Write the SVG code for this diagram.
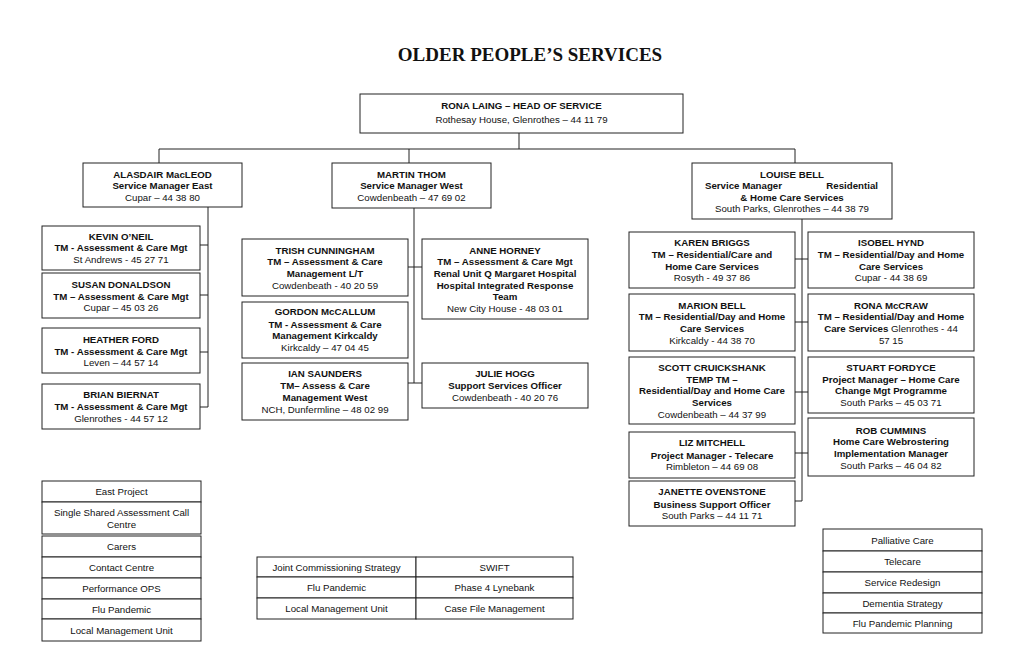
<svg xmlns="http://www.w3.org/2000/svg" width="1024" height="658" viewBox="0 0 1024 658">
<style>
text{font-family:"Liberation Sans",Arial,sans-serif;font-size:9.7px;fill:#111;text-anchor:middle}
.b{font-weight:bold}
.t{font-family:"Liberation Serif","Times New Roman",serif;font-size:19px;font-weight:bold}
rect{fill:#fff;stroke:#222;stroke-width:1}
.c line{stroke:#222;stroke-width:1}
</style>
<rect x="0" y="0" width="1024" height="658" style="stroke:none"/>
<text class="t" x="530" y="61">OLDER PEOPLE’S SERVICES</text>

<g class="c" id="connectors">
<line x1="519" y1="133" x2="519" y2="149"/>
<line x1="159" y1="149" x2="795" y2="149"/>
<line x1="159" y1="149" x2="159" y2="163"/>
<line x1="409" y1="149" x2="409" y2="163"/>
<line x1="795" y1="149" x2="795" y2="163"/>
<line x1="208" y1="207" x2="208" y2="407"/>
<line x1="200" y1="245" x2="208" y2="245"/>
<line x1="200" y1="295" x2="208" y2="295"/>
<line x1="200" y1="352" x2="208" y2="352"/>
<line x1="200" y1="407" x2="208" y2="407"/>
<line x1="414" y1="208" x2="414" y2="383"/>
<line x1="408" y1="267" x2="422" y2="267"/>
<line x1="408" y1="383" x2="422" y2="383"/>
<line x1="802" y1="219" x2="802" y2="501"/>
<line x1="795" y1="259" x2="808" y2="259"/>
<line x1="795" y1="322" x2="808" y2="322"/>
<line x1="795" y1="392" x2="808" y2="392"/>
<line x1="795" y1="453" x2="808" y2="453"/>
<line x1="795" y1="501" x2="802" y2="501"/>
</g>

<g id="head">
<rect x="360" y="94" width="323" height="39"/>
<text class="b" x="521.5" y="108.5">RONA LAING – HEAD OF SERVICE</text>
<text x="521.5" y="122.5">Rothesay House, Glenrothes – 44 11 79</text>
</g>

<g id="alasdair">
<rect x="83" y="163" width="159" height="44"/>
<text class="b" x="162.5" y="177.5">ALASDAIR MacLEOD</text>
<text class="b" x="162.5" y="189">Service Manager East</text>
<text x="162.5" y="200.5">Cupar – 44 38 80</text>
</g>
<g id="kevin">
<rect x="42" y="226" width="158" height="44"/>
<text class="b" x="121" y="239.5">KEVIN O’NEIL</text>
<text class="b" x="121" y="251">TM - Assessment &amp; Care Mgt</text>
<text x="121" y="262.5">St Andrews - 45 27 71</text>
</g>
<g id="susan">
<rect x="42" y="273" width="158" height="45"/>
<text class="b" x="121" y="287.5">SUSAN DONALDSON</text>
<text class="b" x="121" y="299.5">TM – Assessment &amp; Care Mgt</text>
<text x="121" y="311">Cupar – 45 03 26</text>
</g>
<g id="heather">
<rect x="42" y="328" width="158" height="45"/>
<text class="b" x="121" y="342.5">HEATHER FORD</text>
<text class="b" x="121" y="354.5">TM -  Assessment &amp; Care Mgt</text>
<text x="121" y="366">Leven – 44 57 14</text>
</g>
<g id="brian">
<rect x="42" y="384" width="158" height="45"/>
<text class="b" x="121" y="398">BRIAN BIERNAT</text>
<text class="b" x="121" y="410">TM - Assessment &amp; Care Mgt</text>
<text x="121" y="422">Glenrothes - 44 57 12</text>
</g>

<g id="martin">
<rect x="332" y="163" width="159" height="45"/>
<text class="b" x="411.5" y="177.5">MARTIN THOM</text>
<text class="b" x="411.5" y="189">Service Manager West</text>
<text x="411.5" y="200.5">Cowdenbeath – 47 69 02</text>
</g>
<g id="trish">
<rect x="242" y="239" width="166" height="57"/>
<text class="b" x="325" y="253.5">TRISH CUNNINGHAM</text>
<text class="b" x="325" y="265">TM – Assessment &amp; Care</text>
<text class="b" x="325" y="277">Management L/T</text>
<text x="325" y="288.5">Cowdenbeath - 40 20 59</text>
</g>
<g id="gordon">
<rect x="242" y="302" width="166" height="56"/>
<text class="b" x="325" y="315">GORDON McCALLUM</text>
<text class="b" x="325" y="327.5">TM -  Assessment &amp; Care</text>
<text class="b" x="325" y="339">Management Kirkcaldy</text>
<text x="325" y="351">Kirkcaldy – 47 04 45</text>
</g>
<g id="ian">
<rect x="242" y="363" width="166" height="57"/>
<text class="b" x="325" y="377">IAN SAUNDERS</text>
<text class="b" x="325" y="389">TM– Assess &amp; Care</text>
<text class="b" x="325" y="401">Management West</text>
<text x="325" y="413">NCH, Dunfermline – 48 02 99</text>
</g>
<g id="anne">
<rect x="422" y="239" width="166" height="80"/>
<text class="b" x="505" y="253.5">ANNE HORNEY</text>
<text class="b" x="505" y="265">TM – Assessment &amp; Care Mgt</text>
<text class="b" x="505" y="277">Renal Unit Q Margaret Hospital</text>
<text class="b" x="505" y="288.5">Hospital Integrated Response</text>
<text class="b" x="505" y="300">Team</text>
<text x="505" y="311.5">New City House - 48 03 01</text>
</g>
<g id="julie">
<rect x="422" y="363" width="166" height="45"/>
<text class="b" x="505" y="377">JULIE HOGG</text>
<text class="b" x="505" y="389">Support Services Officer</text>
<text x="505" y="401">Cowdenbeath - 40 20 76</text>
</g>

<g id="louise">
<rect x="692" y="163" width="200" height="56"/>
<text class="b" x="792" y="177.5">LOUISE BELL</text>
<text class="b" x="705" y="189" style="text-anchor:start">Service Manager</text>
<text class="b" x="878" y="189" style="text-anchor:end">Residential</text>
<text class="b" x="792" y="200.5">&amp; Home Care Services</text>
<text x="792" y="212">South Parks, Glenrothes  – 44 38 79</text>
</g>
<g id="karen">
<rect x="629" y="232" width="166" height="56"/>
<text class="b" x="712" y="246">KAREN BRIGGS</text>
<text class="b" x="712" y="258">TM – Residential/Care and</text>
<text class="b" x="712" y="269.5">Home Care Services</text>
<text x="712" y="281">Rosyth  - 49 37 86</text>
</g>
<g id="isobel">
<rect x="808" y="232" width="166" height="56"/>
<text class="b" x="891" y="246">ISOBEL HYND</text>
<text class="b" x="891" y="258">TM – Residential/Day and Home</text>
<text class="b" x="891" y="269.5">Care Services</text>
<text x="891" y="281">Cupar - 44 38 69</text>
</g>
<g id="marion">
<rect x="629" y="294" width="166" height="57"/>
<text class="b" x="712" y="308.5">MARION BELL</text>
<text class="b" x="712" y="320">TM – Residential/Day and Home</text>
<text class="b" x="712" y="332">Care Services</text>
<text x="712" y="344">Kirkcaldy - 44 38 70</text>
</g>
<g id="rona-mccraw">
<rect x="808" y="294" width="166" height="57"/>
<text class="b" x="891" y="308.5">RONA McCRAW</text>
<text class="b" x="891" y="320">TM – Residential/Day and Home</text>
<text x="891" y="332"><tspan class="b">Care Services</tspan>  Glenrothes - 44</text>
<text x="891" y="344">57 15</text>
</g>
<g id="scott">
<rect x="629" y="357" width="166" height="67"/>
<text class="b" x="712" y="371">SCOTT CRUICKSHANK</text>
<text class="b" x="712" y="382.5">TEMP TM –</text>
<text class="b" x="712" y="394">Residential/Day and Home Care</text>
<text class="b" x="712" y="406">Services</text>
<text x="712" y="417.5">Cowdenbeath – 44 37 99</text>
</g>
<g id="stuart">
<rect x="808" y="357" width="166" height="56"/>
<text class="b" x="891" y="371">STUART FORDYCE</text>
<text class="b" x="891" y="382.5">Project Manager – Home Care</text>
<text class="b" x="891" y="394">Change Mgt Programme</text>
<text x="891" y="406">South Parks – 45 03 71</text>
</g>
<g id="rob">
<rect x="808" y="418" width="166" height="58"/>
<text class="b" x="891" y="433.5">ROB CUMMINS</text>
<text class="b" x="891" y="445">Home Care Webrostering</text>
<text class="b" x="891" y="457">Implementation Manager</text>
<text x="891" y="468.5">South Parks – 46 04 82</text>
</g>
<g id="liz">
<rect x="629" y="432" width="166" height="46"/>
<text class="b" x="712" y="446">LIZ MITCHELL</text>
<text class="b" x="712" y="458.5">Project Manager - Telecare</text>
<text x="712" y="470">Rimbleton – 44 69 08</text>
</g>
<g id="janette">
<rect x="629" y="481" width="166" height="45"/>
<text class="b" x="712" y="495">JANETTE OVENSTONE</text>
<text class="b" x="712" y="507.5">Business Support Officer</text>
<text x="712" y="518.5">South Parks – 44 11 71</text>
</g>

<g id="east-list">
<rect x="42" y="481" width="159" height="21"/>
<text x="121.5" y="495">East Project</text>
<rect x="42" y="502" width="159" height="32"/>
<text x="121.5" y="515.5">Single Shared Assessment Call</text>
<text x="121.5" y="527.5">Centre</text>
<rect x="42" y="536" width="159" height="21"/>
<text x="121.5" y="550">Carers</text>
<rect x="42" y="557" width="159" height="21"/>
<text x="121.5" y="571">Contact Centre</text>
<rect x="42" y="578" width="159" height="21"/>
<text x="121.5" y="592">Performance OPS</text>
<rect x="42" y="599" width="159" height="20"/>
<text x="121.5" y="612.5">Flu Pandemic</text>
<rect x="42" y="619" width="159" height="22"/>
<text x="121.5" y="633.5">Local Management Unit</text>
</g>

<g id="west-table">
<rect x="257" y="557" width="159" height="20"/>
<text x="336.5" y="570.5">Joint Commissioning Strategy</text>
<rect x="416" y="557" width="157" height="20"/>
<text x="494.5" y="570.5">SWIFT</text>
<rect x="257" y="577" width="159" height="21"/>
<text x="336.5" y="591">Flu Pandemic</text>
<rect x="416" y="577" width="157" height="21"/>
<text x="494.5" y="591">Phase 4 Lynebank</text>
<rect x="257" y="598" width="159" height="21"/>
<text x="336.5" y="612">Local Management Unit</text>
<rect x="416" y="598" width="157" height="21"/>
<text x="494.5" y="612">Case File Management</text>
</g>

<g id="right-list">
<rect x="823" y="529" width="159" height="22"/>
<text x="902.5" y="543.5">Palliative Care</text>
<rect x="823" y="551" width="159" height="21"/>
<text x="902.5" y="565">Telecare</text>
<rect x="823" y="572" width="159" height="21"/>
<text x="902.5" y="586">Service Redesign</text>
<rect x="823" y="593" width="159" height="20"/>
<text x="902.5" y="606.5">Dementia Strategy</text>
<rect x="823" y="613" width="159" height="20"/>
<text x="902.5" y="626.5">Flu Pandemic Planning</text>
</g>
</svg>
